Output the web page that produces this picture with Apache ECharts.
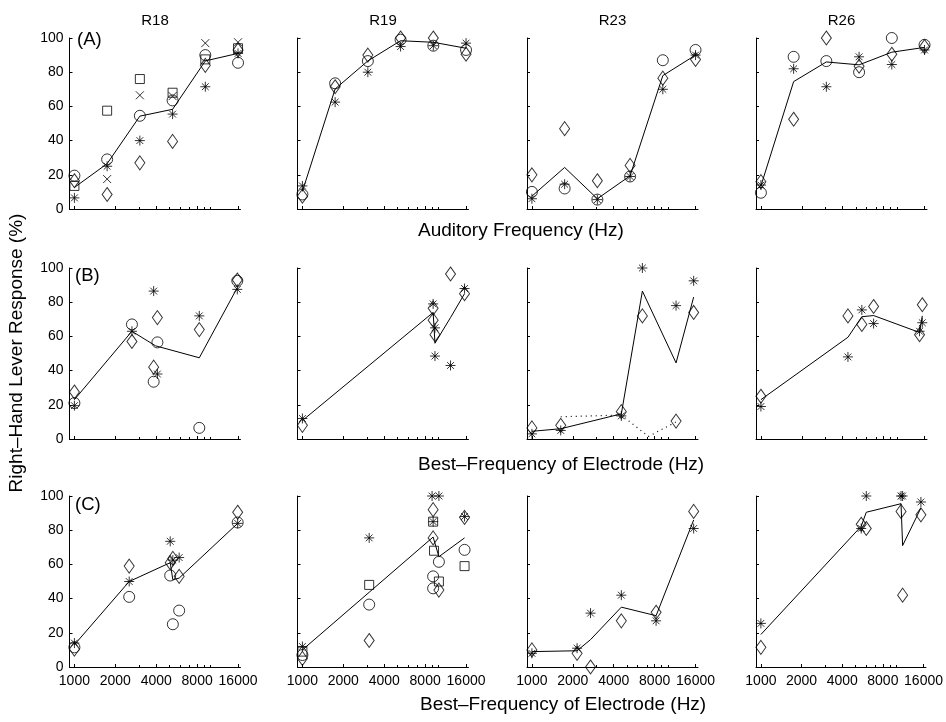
<!DOCTYPE html>
<html><head><meta charset="utf-8">
<script src="https://cdn.jsdelivr.net/npm/echarts@6/dist/echarts.min.js"></script>
<style>html,body{margin:0;padding:0;background:#fff}#c{width:946px;height:722px}</style>
</head><body><div id="c"></div>
<script>
// ---------- DATA ----------
const ratNames = ['R18', 'R19', 'R23', 'R26'];
const panelTags = ['(A)', '(B)', '(C)'];
const xTickFreqs = [1000, 2000, 4000, 8000, 16000];
const xTickLabels = ['1000', '2000', '4000', '8000', '16000'];
const xMinorFreqs = [3000, 5000, 6000, 7000, 9000, 10000];
const yTicks = [0, 20, 40, 60, 80, 100];

// Row A: auditory frequencies (Hz)
const freqA = [1000, 1741, 3031, 5278, 9190, 16000];
const r18A_o = [19.5, 29, 54.5, 63.5, 90, 85.5];
const r18A_d = [16.5, 8.5, 27, 39.5, 84, 93];
const r18A_s = [13.5, 57.5, 76, 68, 87.5, 94];
const r18A_x = [null, 17.5, 66.5, 66, 97, 97.5];
const r18A_a = [6.5, 25, 40, 55.5, 71.5, 91];
const r18A_m = [12.6, 26.5, 54.3, 58.3, 86.6, 91];

const r19A_o = [8.5, 73.5, 86.5, 99, 95.5, 93];
const r19A_d = [7.5, 71.5, 90, 100, 100, 90.5];
const r19A_a = [13.5, 62.5, 80, 95, 95.5, 97];
const r19A_m = [10.3, 70.2, 86.6, 98.4, 97.5, 94];

const r23A_o = [10, 12, 5.5, 19, 87, 93];
const r23A_d = [20, 47, 16.5, 25.5, 76.5, 87.5];
const r23A_a = [6, 14.5, 5.5, 19, 70, 90];
const r23A_m = [7.5, 24.3, 6, 19.4, 78, 90];

const r26A_o = [9.5, 89, 86.5, 80, 100, 96];
const r26A_d = [16, 52.5, 100, 83.5, 90.5, 95];
const r26A_a = [14, 82, 71.5, 89, 84.5, 93];
const r26A_m = [13.5, 74.5, 86, 84.3, 91.7, 94.5];

// Row B: best frequency of electrode [Hz, %]
const r18B_o = [[1000,21],[2650,67],[3830,33.5],[4080,56.5],[8300,6.5],[15800,92.5]];
const r18B_d = [[1000,27.5],[2650,57],[3830,42],[4080,71],[8300,64],[15800,93]];
const r18B_a = [[1000,19.5],[2650,63],[3830,86.5],[4080,38],[8300,72],[15800,87.5]];
const r18B_m = [[1000,23],[2650,63],[3950,54.5],[8300,47.5],[15800,88.5]];

const r19B_d = [[1000,8],[9160,76.5],[9160,69.5],[9450,61],[12300,96.5],[15600,85]];
const r19B_a = [[1000,12],[9160,79],[9450,65],[9450,48.5],[12300,43],[15600,88]];
const r19B_m = [[1000,10.8],[9160,74],[9450,56],[12300,71],[15600,85]];

const r23B_d = [[1000,6.5],[1630,8],[4550,16],[6500,72],[11500,10.5],[15500,74]];
const r23B_a = [[1000,3],[1630,5],[4550,13.5],[6500,100],[11500,78],[15500,92.5]];
const r23B_m = [[1000,4.5],[1630,6],[4550,14.7],[6500,86.5],[11500,44.5],[15500,83]];
const r23B_dot = [[1630,13],[4550,14],[7200,1.5],[11500,10]];

const r26B_d = [[1000,25],[4370,72],[5530,67],[6750,77.5],[14700,61],[15400,78.5]];
const r26B_a = [[1000,19],[4370,48],[5530,75.5],[6750,67.5],[14700,63],[15400,68]];
const r26B_m = [[1000,23],[4370,59.5],[5530,71.5],[6750,72.2],[14700,62.3],[15400,72]];

// Row C
const r18C_o = [[1000,11.5],[2530,41],[5070,53.5],[5300,25],[5900,33],[15900,84.5]];
const r18C_d = [[1000,10.5],[2530,59],[5070,61],[5300,63.5],[5900,53],[15900,90.5]];
const r18C_a = [[1000,14],[2530,50],[5070,73.5],[5300,62.5],[5900,64],[15900,84]];
const r18C_m = [[1000,13],[2530,50],[5070,61],[5300,51],[5900,52],[15900,84]];

const r19C_o = [[1000,7],[3100,36.5],[9160,53],[9160,46],[10100,61.5],[15600,68.5]];
const r19C_d = [[1000,5],[3100,15.5],[9160,92],[9160,75.5],[10100,45],[15600,87.5]];
const r19C_s = [[1000,9],[3100,48],[9160,85],[9300,68],[10100,50],[15600,59]];
const r19C_a = [[1000,12],[3100,75.5],[9000,100],[9160,85],[10100,100],[15600,88]];
const r19C_m = [[1000,10],[3100,43.7],[9160,76],[10100,64.5],[15600,75.5]];

const r23C_d = [[1000,10],[2150,8],[2700,0],[4550,27],[8200,32],[15500,91]];
const r23C_a = [[1000,8],[2150,11],[2700,31.5],[4550,42],[8200,27],[15500,81]];
const r23C_m = [[1000,9],[2150,9.5],[2700,16],[4550,35],[8200,30],[15500,86]];

const r26C_d = [[1000,11.5],[5530,83.5],[6030,81],[10900,91],[11200,42],[15300,89]];
const r26C_a = [[1000,25.5],[5530,81],[6030,100],[10900,100],[11200,100],[15300,96.5]];
const r26C_m = [[1000,19],[5530,82.3],[6030,90.5],[10900,95.5],[11200,71],[15300,93]];

// ---------- BUILD ----------
const pairA = vals => freqA.map((f, i) => [f, vals[i]]).filter(p => p[1] !== null);

const panels = [
  {row:0, col:0, s:[['m', pairA(r18A_m)], ['o', pairA(r18A_o)], ['d', pairA(r18A_d)], ['s', pairA(r18A_s)], ['x', pairA(r18A_x)], ['a', pairA(r18A_a)]]},
  {row:0, col:1, s:[['m', pairA(r19A_m)], ['o', pairA(r19A_o)], ['d', pairA(r19A_d)], ['a', pairA(r19A_a)]]},
  {row:0, col:2, s:[['m', pairA(r23A_m)], ['o', pairA(r23A_o)], ['d', pairA(r23A_d)], ['a', pairA(r23A_a)]]},
  {row:0, col:3, s:[['m', pairA(r26A_m)], ['o', pairA(r26A_o)], ['d', pairA(r26A_d)], ['a', pairA(r26A_a)]]},
  {row:1, col:0, s:[['m', r18B_m], ['o', r18B_o], ['d', r18B_d], ['a', r18B_a]]},
  {row:1, col:1, s:[['m', r19B_m], ['d', r19B_d], ['a', r19B_a]]},
  {row:1, col:2, s:[['m', r23B_m], ['dot', r23B_dot], ['d', r23B_d], ['a', r23B_a]]},
  {row:1, col:3, s:[['m', r26B_m], ['d', r26B_d], ['a', r26B_a]]},
  {row:2, col:0, s:[['m', r18C_m], ['o', r18C_o], ['d', r18C_d], ['a', r18C_a]]},
  {row:2, col:1, s:[['m', r19C_m], ['o', r19C_o], ['d', r19C_d], ['s', r19C_s], ['a', r19C_a]]},
  {row:2, col:2, s:[['m', r23C_m], ['d', r23C_d], ['a', r23C_a]]},
  {row:2, col:3, s:[['m', r26C_m], ['d', r26C_d], ['a', r26C_a]]}
];

const FONT = 'Liberation Sans, Arial, Helvetica, sans-serif';
const colLeft = [69.5, 297.5, 527, 756];
const rowTop = [38, 268, 496];
const tagPos = [[77, 40], [75, 276], [75, 505]];
const GW = 171, GH = 171;
const XMIN = -0.12, XMAX = 4.06;
const toX = f => Math.log2(f / 1000);

const SYM = {
  o: {symbol: 'circle', symbolSize: 11},
  d: {symbol: 'diamond', symbolSize: [10, 14]},
  s: {symbol: 'rect', symbolSize: 9},
  x: {symbol: 'path://M0,0L10,10M10,0L0,10', symbolSize: 8},
  a: {symbol: 'path://M5,0L5,10M0,5L10,5M1.6,1.6L8.4,8.4M8.4,1.6L1.6,8.4', symbolSize: 10}
};

const grid = [], xAxis = [], yAxis = [], series = [];
panels.forEach((p, i) => {
  grid.push({left: colLeft[p.col], top: rowTop[p.row], width: GW, height: GH, containLabel: false});
  xAxis.push({
    gridIndex: i, type: 'value', min: XMIN, max: XMAX, position: 'bottom',
    axisLine: {show: true, onZero: false, lineStyle: {color: '#000', width: 1}},
    axisTick: {show: true, inside: true, length: 3, customValues: xTickFreqs.map(toX), lineStyle: {color: '#000', width: 1}},
    axisLabel: {show: p.row === 2, customValues: xTickFreqs.map(toX),
      formatter: v => { const k = xTickFreqs.findIndex(f => Math.abs(toX(f) - v) < 1e-6); return k >= 0 ? xTickLabels[k] : ''; },
      color: '#000', fontSize: 14, fontFamily: FONT, margin: 7},
    splitLine: {show: false}
  });
  xAxis.push({
    gridIndex: i, type: 'value', min: XMIN, max: XMAX, position: 'bottom', offset: 0,
    axisLine: {show: false, onZero: false},
    axisTick: {show: true, inside: true, length: 2, customValues: xMinorFreqs.map(toX), lineStyle: {color: '#000', width: 1}},
    axisLabel: {show: false}, splitLine: {show: false}
  });
  yAxis.push({
    gridIndex: i, type: 'value', min: 0, max: 100, interval: 20,
    axisLine: {show: true, onZero: false, lineStyle: {color: '#000', width: 1}},
    axisTick: {show: true, inside: true, length: 3, lineStyle: {color: '#000', width: 1}},
    axisLabel: {show: p.col === 0, color: '#000', fontSize: 14, fontFamily: FONT, margin: 6,
      formatter: v => yTicks.includes(v) ? String(v) : ''},
    splitLine: {show: false}
  });
  p.s.forEach(([kind, data]) => {
    const d = data.map(q => [toX(q[0]), q[1]]);
    if (kind === 'm' || kind === 'dot') {
      series.push({type: 'line', xAxisIndex: 2 * i, yAxisIndex: i, data: d, symbol: 'none', silent: true,
        lineStyle: {color: '#000', width: kind === 'dot' ? 1.2 : 1, type: kind === 'dot' ? [1, 4] : 'solid'}, z: 2});
    } else {
      series.push(Object.assign({type: 'scatter', xAxisIndex: 2 * i, yAxisIndex: i, data: d, silent: true,
        itemStyle: {color: 'rgba(0,0,0,0)', borderColor: '#000', borderWidth: 1}, z: 3}, SYM[kind]));
    }
  });
});

const txt = (text, x, y, size, align, extra) => Object.assign({
  type: 'text', x: x, y: y, silent: true,
  style: {text: text, font: size + 'px ' + FONT, fill: '#000', textAlign: align, align: align,
    textVerticalAlign: 'middle', verticalAlign: 'middle'}
}, extra || {});

const graphic = [];
ratNames.forEach((n, c) => graphic.push(txt(n, colLeft[c] + GW / 2, 20.5, 15, 'center')));
panelTags.forEach((t, r) => graphic.push(txt(t, tagPos[r][0], tagPos[r][1], 18.5, 'left')));
graphic.push(txt('Auditory Frequency (Hz)', 418, 231, 19, 'left'));
graphic.push(txt('Best\u2013Frequency of Electrode (Hz)', 418, 465, 19, 'left'));
graphic.push(txt('Best\u2013Frequency of Electrode (Hz)', 420, 705, 19, 'left'));
graphic.push(txt('Right\u2013Hand Lever Response (%)', 17, 353, 19, 'center', {rotation: Math.PI / 2}));

const chart = echarts.init(document.getElementById('c'), null, {renderer: 'canvas'});
chart.setOption({animation: false, backgroundColor: '#fff', grid, xAxis, yAxis, series, graphic});
</script></body></html>
